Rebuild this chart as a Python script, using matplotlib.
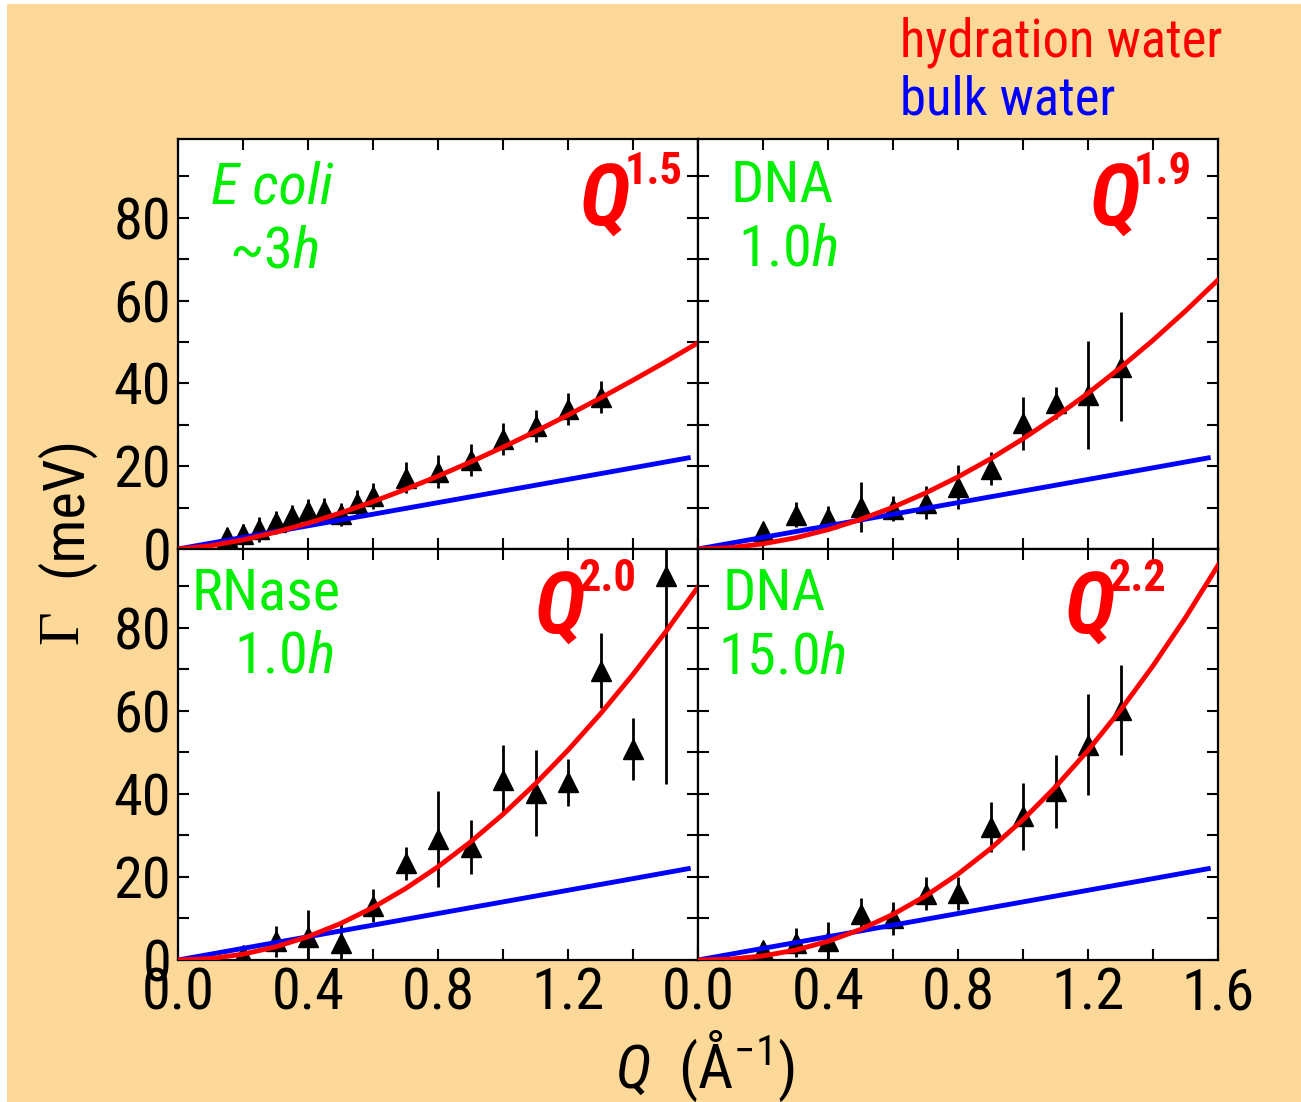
import matplotlib
matplotlib.use('Agg')
import matplotlib.pyplot as plt
from matplotlib import font_manager
from matplotlib.patches import Rectangle
from matplotlib.ticker import MultipleLocator

# ---- data ----
q_fit = [0.0, 0.1, 0.2, 0.3, 0.4, 0.5, 0.6, 0.7, 0.8, 0.9, 1.0, 1.1, 1.2, 1.3, 1.4, 1.5, 1.6]

# E coli ~3h  (fit ~ Q^1.5)
ecoli_q = [0.15, 0.2, 0.25, 0.3, 0.35, 0.4, 0.45, 0.5, 0.55, 0.6, 0.7, 0.8, 0.9, 1.0, 1.1, 1.2, 1.3]
ecoli_g = [3.0, 3.6, 4.8, 6.4, 7.9, 9.2, 9.5, 8.4, 11.2, 12.8, 17.2, 18.7, 21.5, 26.5, 29.7, 33.8, 36.7]
ecoli_e = [2.0, 2.5, 3.0, 2.8, 2.8, 2.8, 2.8, 2.8, 3.0, 3.1, 3.7, 3.9, 3.9, 3.9, 3.8, 3.9, 3.8]
ecoli_fit = [0, 0.78, 2.20, 4.04, 6.22, 8.70, 11.43, 14.41, 17.60, 21.00, 24.60, 28.38, 32.34, 36.46, 40.75, 45.19, 49.79]

# DNA 1.0h  (fit ~ Q^1.9)
dna1_q = [0.2, 0.3, 0.4, 0.5, 0.6, 0.7, 0.8, 0.9, 1.0, 1.1, 1.2, 1.3]
dna1_g = [4.3, 8.3, 7.4, 10.1, 9.7, 11.2, 14.9, 19.4, 30.4, 35.3, 37.2, 44.0]
dna1_e = [1.0, 3.0, 3.0, 6.0, 3.0, 4.0, 5.3, 4.0, 6.4, 3.8, 13.0, 13.2]
dna1_fit = [0, 0.33, 1.25, 2.70, 4.67, 7.13, 10.08, 13.51, 17.41, 21.77, 26.6, 31.88, 37.61, 43.79, 50.41, 57.47, 64.97]

# RNase 1.0h  (fit ~ Q^2.0)
rnase_q = [0.2, 0.3, 0.4, 0.5, 0.6, 0.7, 0.8, 0.9, 1.0, 1.1, 1.2, 1.3, 1.4, 1.5]
rnase_g = [1.2, 4.5, 5.5, 4.2, 13.1, 23.3, 29.1, 27.3, 43.3, 40.2, 42.8, 69.7, 50.9, 92.4]
rnase_e = [1.0, 3.8, 6.5, 5.3, 4.0, 4.0, 11.6, 6.5, 8.4, 10.3, 5.6, 9.0, 7.5, 50.0]
rnase_fit = [0, 0.35, 1.40, 3.16, 5.62, 8.78, 12.64, 17.20, 22.46, 28.43, 35.10, 42.47, 50.54, 59.32, 68.80, 78.98, 89.86]

# DNA 15.0h  (fit ~ Q^2.2)
dna15_q = [0.2, 0.3, 0.4, 0.5, 0.6, 0.7, 0.8, 0.9, 1.0, 1.1, 1.2, 1.3]
dna15_g = [2.4, 4.2, 4.6, 11.2, 10.0, 16.0, 16.1, 32.1, 34.6, 40.6, 51.9, 60.3]
dna15_e = [1.0, 3.5, 4.5, 3.7, 4.0, 4.0, 4.0, 6.0, 8.1, 8.8, 12.2, 10.8]
dna15_fit = [0, 0.21, 0.98, 2.39, 4.50, 7.36, 10.99, 15.42, 20.69, 26.81, 33.80, 41.69, 50.48, 60.20, 70.86, 82.47, 95.06]

# bulk water (same in every panel)
bulk_q = [0.0, 0.2, 0.4, 0.6, 0.8, 1.0, 1.2, 1.4, 1.57]
bulk_g = [0.0, 2.8, 5.6, 8.4, 11.2, 14.0, 16.8, 19.6, 22.0]

# ---- styling ----
# pick the narrowest sans family that is installed
installed = {f.name for f in font_manager.fontManager.ttflist}
font = 'DejaVu Sans'
for cand in ['Liberation Sans Narrow', 'Roboto Condensed', 'Open Sans Condensed', 'Liberation Sans', 'Roboto']:
    if cand in installed:
        font = cand
        break

plt.rcParams['font.family'] = [font, 'DejaVu Sans']
plt.rcParams['mathtext.fontset'] = 'custom'
plt.rcParams['mathtext.rm'] = font
plt.rcParams['mathtext.it'] = font + ':italic'

bg = '#fdd999'
green = '#00ee00'

fig = plt.figure(figsize=(13.01, 11.02), dpi=100, facecolor='white')
fig.patches.append(Rectangle((7 / 1301, 0), 1, 1 - 4 / 1102, transform=fig.transFigure,
                             facecolor=bg, edgecolor='none', zorder=-10))

lx, rx, w = 178 / 1301, 698 / 1301, 520 / 1301
ty, by = 1 - 549 / 1102, 1 - 960 / 1102

panels = [
    # pos, q, g, e, fit, label1, label2, italic, exponent, label pos 1, label pos 2, Q x, Q y
    ((lx, ty), ecoli_q, ecoli_g, ecoli_e, ecoli_fit, 'E coli', '~3h', True, '1.5', (0.18, 0.88), (0.185, 0.724), 0.87, 0.845),
    ((rx, ty), dna1_q, dna1_g, dna1_e, dna1_fit, 'DNA', '1.0h', False, '1.9', (0.162, 0.883), (0.173, 0.73), 0.85, 0.845),
    ((lx, by), rnase_q, rnase_g, rnase_e, rnase_fit, 'RNase', '1.0h', False, '2.0', (0.17, 0.89), (0.204, 0.737), 0.783, 0.852),
    ((rx, by), dna15_q, dna15_g, dna15_e, dna15_fit, 'DNA', '15.0h', False, '2.2', (0.146, 0.89), (0.162, 0.735), 0.802, 0.852),
]

for i, (pos, q, g, e, fit, lab1, lab2, ital, expo, p1, p2, qx, qy) in enumerate(panels):
    ax = fig.add_axes([pos[0], pos[1], w, (410 if i < 2 else 411) / 1102])
    ax.set_facecolor('white')
    ax.errorbar(q, g, yerr=e, fmt='^', color='k', ms=15, elinewidth=2, capsize=0, zorder=2)
    ax.plot(bulk_q, bulk_g, color='#0000ff', lw=3.5, zorder=3)
    ax.plot(q_fit, fit, color='#ff0000', lw=3.5, zorder=4)
    ax.set_xlim(0, 1.6)
    ax.set_ylim(0, 99)
    ax.xaxis.set_major_locator(MultipleLocator(0.4))
    ax.xaxis.set_minor_locator(MultipleLocator(0.2))
    ax.yaxis.set_major_locator(MultipleLocator(20))
    ax.yaxis.set_minor_locator(MultipleLocator(10))
    ax.tick_params(which='both', direction='in', top=True, right=True, length=8, width=1.5)
    ax.tick_params(labelsize=42, pad=5)
    ax.set_yticks([0, 20, 40, 60, 80])
    for s in ax.spines.values():
        s.set_linewidth(1.6)

    if i < 2:
        ax.set_xticklabels([])
    else:
        if i == 2:
            ax.set_xticks([0, 0.4, 0.8, 1.2])
        ax.set_xticklabels([f'{t:.1f}' for t in ax.get_xticks()])
    if i % 2 == 1:
        ax.set_yticklabels([])

    style = 'italic' if ital else 'normal'
    ax.text(p1[0], p1[1], lab1, transform=ax.transAxes, color=green, fontsize=42,
            style=style, ha='center', va='center')
    lab2_tex = lab2[:-1] + r'$h$'
    ax.text(p2[0], p2[1], lab2_tex, transform=ax.transAxes, color=green, fontsize=42,
            ha='center', va='center')
    ax.text(qx, qy, 'Q', transform=ax.transAxes, color='red', fontsize=62,
            style='italic', fontweight='bold', ha='right', va='center')
    ax.text(qx - 0.012, qy + 0.075, expo, transform=ax.transAxes, color='red', fontsize=32,
            fontweight='bold', ha='left', va='center')

# axis labels
fig.text(705 / 1301, 1 - 1066 / 1102, r'$Q$  (Å$^{-1}$)', fontsize=44, ha='center', va='center')
fig.text(63 / 1301, 1 - 627 / 1102, 'Γ', family='Liberation Serif', fontsize=42,
         rotation=90, ha='center', va='center')
fig.text(65 / 1301, 1 - 506 / 1102, '(meV)', fontsize=42, rotation=90, ha='center', va='center')

# legend text
fig.text(900 / 1301, 1 - 42 / 1102, 'hydration water', color='red', fontsize=38, ha='left', va='center')
fig.text(900 / 1301, 1 - 100 / 1102, 'bulk water', color='#0000ff', fontsize=38, ha='left', va='center')

fig.savefig('out.png', dpi=100, facecolor=fig.get_facecolor())
